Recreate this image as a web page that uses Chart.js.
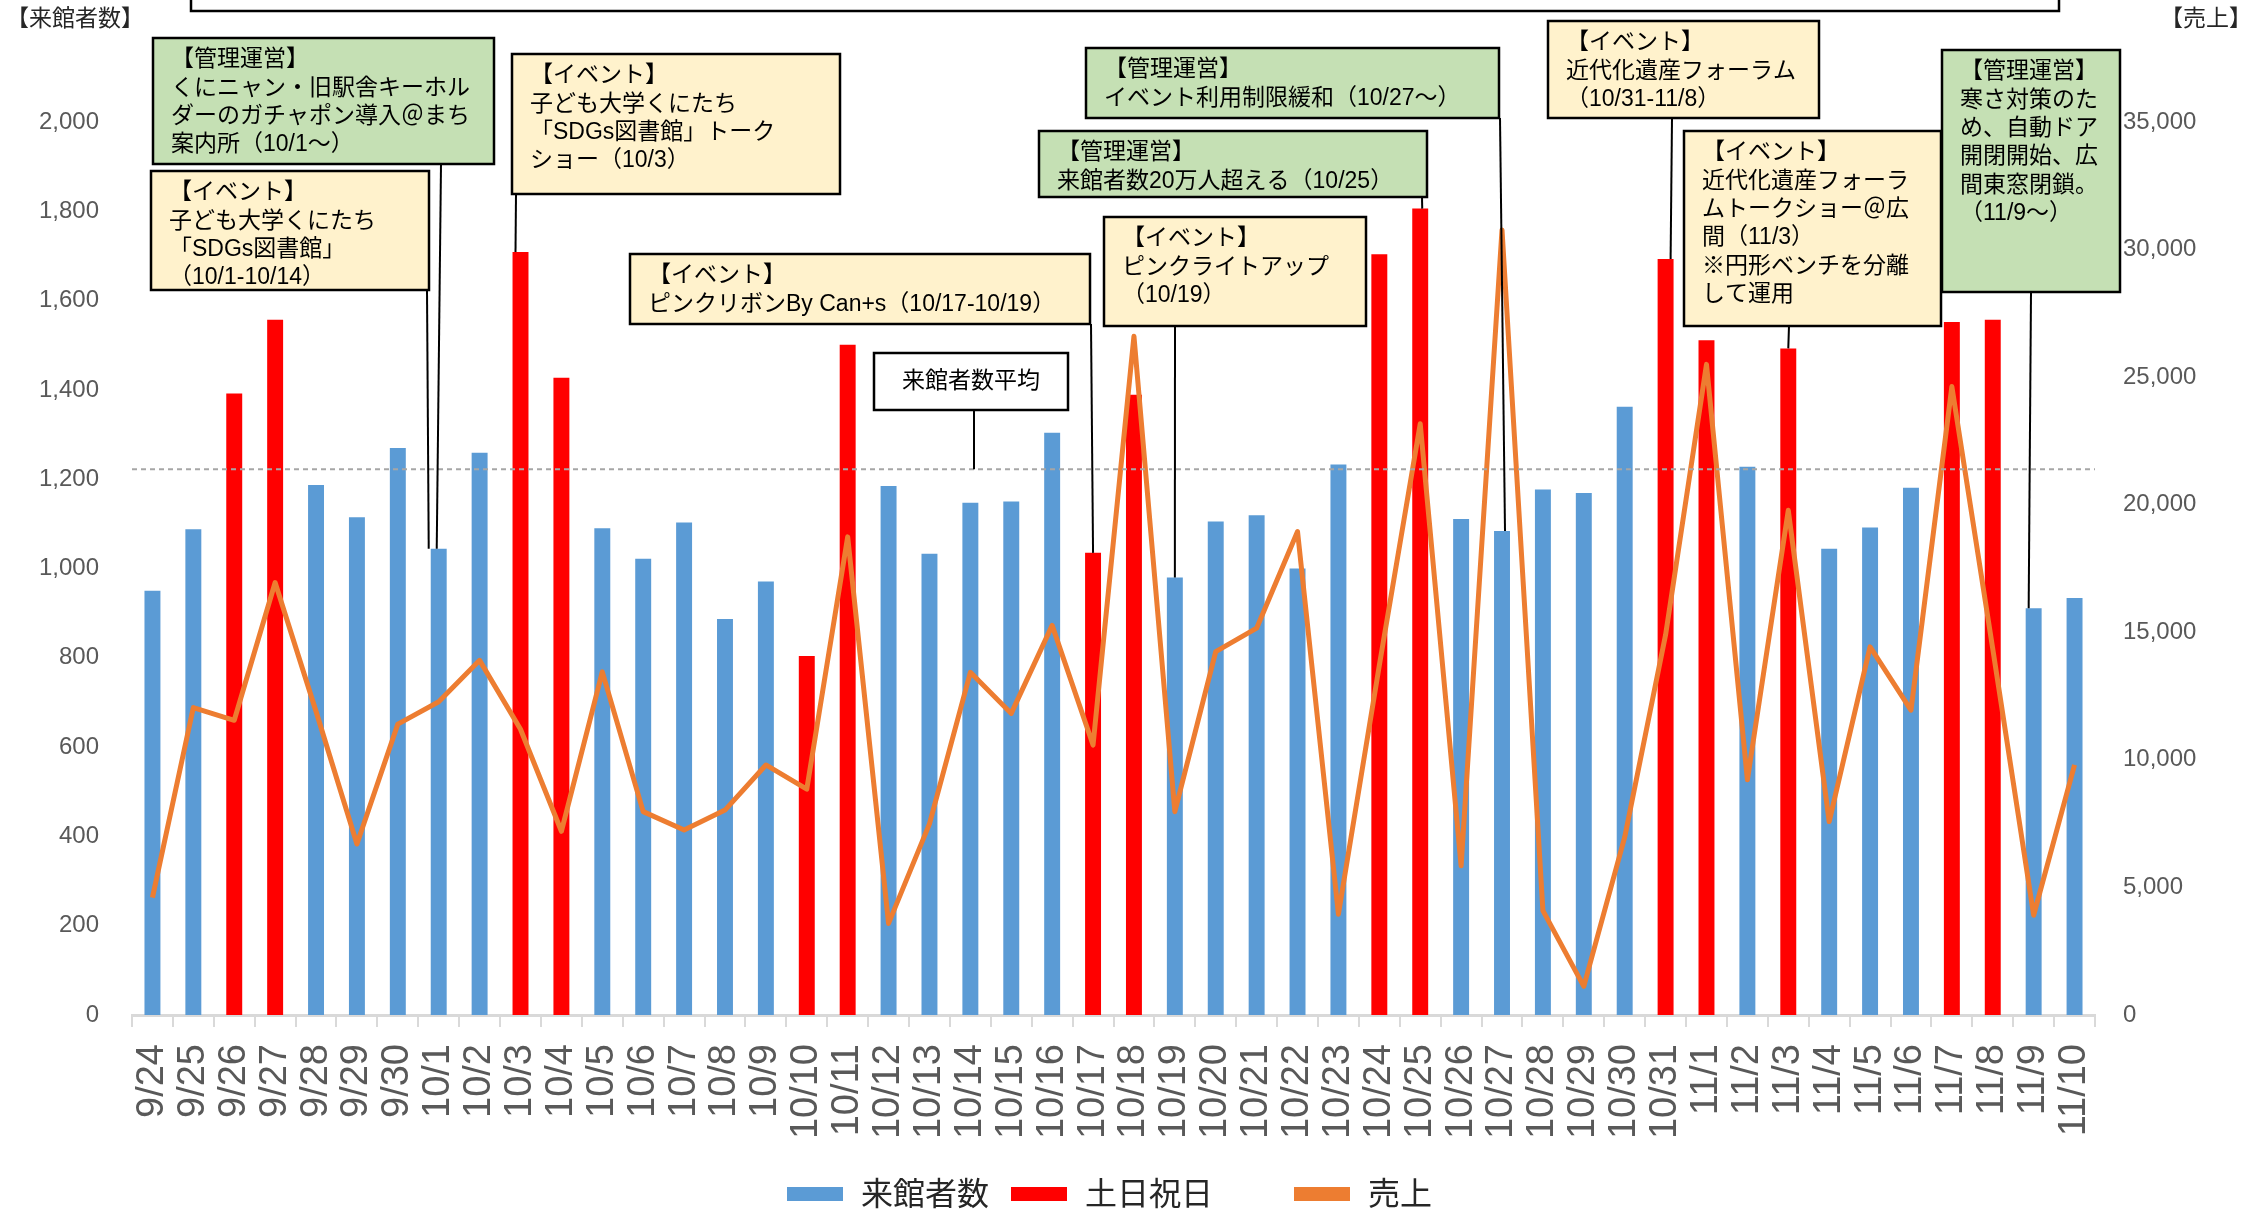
<!DOCTYPE html>
<html>
<head>
<meta charset="utf-8">
<script src="https://cdn.jsdelivr.net/npm/chart.js@4.4.1/dist/chart.umd.min.js"></script>
<style>
  html, body { margin: 0; padding: 0; background: #fff; overflow: hidden; }
  canvas { display: block; }
</style>
</head>
<body>
<canvas id="myChart" width="2259" height="1210"></canvas>
<script>
// 日付
const dates = ['9/24','9/25','9/26','9/27','9/28','9/29','9/30',
  '10/1','10/2','10/3','10/4','10/5','10/6','10/7','10/8','10/9','10/10',
  '10/11','10/12','10/13','10/14','10/15','10/16','10/17','10/18','10/19','10/20',
  '10/21','10/22','10/23','10/24','10/25','10/26','10/27','10/28','10/29','10/30','10/31',
  '11/1','11/2','11/3','11/4','11/5','11/6','11/7','11/8','11/9','11/10'];

// 来館者数
const visitors = [950, 1088, 1392, 1557, 1187, 1115, 1270,
  1044, 1259, 1709, 1427, 1090, 1022, 1103, 887, 971, 804,
  1501, 1185, 1033, 1147, 1150, 1304, 1035, 1389, 980, 1105,
  1119, 1000, 1233, 1704, 1806, 1111, 1084, 1177, 1169, 1362, 1693,
  1511, 1228, 1493, 1044, 1092, 1181, 1552, 1557, 911, 934];

// 土日祝日
const holidays = ['9/26','9/27','10/3','10/4','10/10','10/11','10/17','10/18',
  '10/24','10/25','10/31','11/1','11/3','11/7','11/8'];

// 売上
const sales = [4600, 12050, 11550, 16950, 11900, 6700, 11400,
  12280, 13900, 11200, 7200, 13450, 7970, 7250, 8030, 9800, 8850,
  18740, 3590, 7490, 13430, 11820, 15270, 10580, 26600, 7970, 14240,
  15160, 18950, 3950, 13700, 23170, 5850, 30770, 4090, 1120, 6970, 14900,
  25500, 9220, 19780, 7580, 14430, 11950, 24630, 14350, 3910, 9800];

const leftTicksMax = 2000;
const rightTicksMax = 35000;

const avgVisitors = visitors.reduce((a, b) => a + b, 0) / visitors.length;

// 吹き出し
const notes = [
  { kind: 'kanri', date: '10/1', lines: ['【管理運営】', 'くにニャン・旧駅舎キーホル', 'ダーのガチャポン導入＠まち', '案内所（10/1～）'] },
  { kind: 'event', date: '10/1', lines: ['【イベント】', '子ども大学くにたち', '「SDGs図書館」', '（10/1-10/14）'] },
  { kind: 'event', date: '10/3', lines: ['【イベント】', '子ども大学くにたち', '「SDGs図書館」トーク', 'ショー（10/3）'] },
  { kind: 'event', date: '10/17', lines: ['【イベント】', 'ピンクリボンBy Can+s（10/17-10/19）'] },
  { kind: 'plain', date: null, lines: ['来館者数平均'] },
  { kind: 'kanri', date: '10/27', lines: ['【管理運営】', 'イベント利用制限緩和（10/27～）'] },
  { kind: 'kanri', date: '10/25', lines: ['【管理運営】', '来館者数20万人超える（10/25）'] },
  { kind: 'event', date: '10/19', lines: ['【イベント】', 'ピンクライトアップ', '（10/19）'] },
  { kind: 'event', date: '10/31', lines: ['【イベント】', '近代化遺産フォーラム', '（10/31-11/8）'] },
  { kind: 'event', date: '11/3', lines: ['【イベント】', '近代化遺産フォーラ', 'ムトークショー＠広', '間（11/3）', '※円形ベンチを分離', 'して運用'] },
  { kind: 'kanri', date: '11/9', lines: ['【管理運営】', '寒さ対策のた', 'め、自動ドア', '開閉開始、広', '間東窓閉鎖。', '（11/9～）'] }
];

// 吹き出しの配置 (px)
const noteBoxes = [
  { x: 153, y: 38, w: 341, h: 126, lead: 441, dx: -2 },
  { x: 151, y: 171, w: 278, h: 119, lead: 427, dx: -10 },
  { x: 512, y: 54, w: 328, h: 140, lead: 516, dx: -5 },
  { x: 630, y: 254, w: 460, h: 70, lead: 1091, dx: 0 },
  { x: 874, y: 353, w: 194, h: 57, lead: 974, dx: 0 },
  { x: 1086, y: 48, w: 413, h: 70, lead: 1500, dx: 3 },
  { x: 1039, y: 131, w: 388, h: 66, lead: 1422, dx: 2 },
  { x: 1104, y: 217, w: 262, h: 109, lead: 1175, dx: 0 },
  { x: 1548, y: 21, w: 271, h: 97, lead: 1672, dx: 5 },
  { x: 1684, y: 131, w: 257, h: 195, lead: 1789, dx: 0 },
  { x: 1942, y: 50, w: 178, h: 242, lead: 2031, dx: -5 }
];

const fills = { kanri: '#C5E0B4', event: '#FFF2CC', plain: '#FFFFFF' };
const jpFont = '"Liberation Sans", "Noto Sans CJK JP", sans-serif';

const weekdayData = visitors.map((v, i) => holidays.includes(dates[i]) ? null : v);
const holidayData = visitors.map((v, i) => holidays.includes(dates[i]) ? v : null);

const notesPlugin = {
  id: 'notes',
  afterDatasetsDraw(chart) {
    const { ctx, chartArea, scales: { x, y } } = chart;
    ctx.save();

    // 平均線
    const ya = y.getPixelForValue(avgVisitors);
    ctx.strokeStyle = '#A6A6A6';
    ctx.lineWidth = 2;
    ctx.setLineDash([5, 4]);
    ctx.beginPath();
    ctx.moveTo(chartArea.left, ya);
    ctx.lineTo(chartArea.right, ya);
    ctx.stroke();
    ctx.setLineDash([]);

    // 上の枠 (切れている)
    ctx.fillStyle = '#fff';
    ctx.fillRect(191, -20, 1868, 31);
    ctx.strokeStyle = '#000';
    ctx.lineWidth = 2.5;
    ctx.strokeRect(191, -20, 1868, 31);

    // 引き出し線
    ctx.lineWidth = 2;
    notes.forEach((n, i) => {
      const b = noteBoxes[i];
      let tx, ty;
      if (n.date) {
        const k = dates.indexOf(n.date);
        tx = x.getPixelForValue(k) + b.dx;
        ty = y.getPixelForValue(visitors[k]);
      } else {
        tx = b.lead;
        ty = ya;
      }
      ctx.beginPath();
      ctx.moveTo(b.lead, b.y + b.h);
      ctx.lineTo(tx, ty);
      ctx.stroke();
    });

    // 枠と文字
    notes.forEach((n, i) => {
      const b = noteBoxes[i];
      ctx.fillStyle = fills[n.kind];
      ctx.fillRect(b.x, b.y, b.w, b.h);
      ctx.lineWidth = 2.5;
      ctx.strokeStyle = '#000';
      ctx.strokeRect(b.x, b.y, b.w, b.h);
      ctx.fillStyle = '#000';
      ctx.font = '23px ' + jpFont;
      ctx.textBaseline = 'middle';
      if (n.kind === 'plain') {
        ctx.textAlign = 'center';
        ctx.fillText(n.lines[0], b.x + b.w / 2, b.y + b.h / 2);
      } else {
        ctx.textAlign = 'left';
        n.lines.forEach((t, k) => ctx.fillText(t, b.x + 18, b.y + 22 + k * 28.3));
      }
    });

    // 軸タイトル
    ctx.fillStyle = '#262626';
    ctx.font = '23px ' + jpFont;
    ctx.textAlign = 'left';
    ctx.fillText('【来館者数】', 6, 20);
    ctx.fillText('【売上】', 2160, 20);

    // 凡例
    const legendPos = [787, 1011, 1294];
    const ds = chart.data.datasets;
    ctx.font = '32px ' + jpFont;
    ds.forEach((d, i) => {
      const lx = legendPos[i];
      ctx.fillStyle = d.legendColor;
      ctx.fillRect(lx, 1187, 56, 14);
      ctx.fillStyle = '#262626';
      ctx.fillText(d.label, lx + 74, 1196);
    });
    ctx.restore();
  }
};

const config = {
  data: {
    labels: dates,
    datasets: [
      {
        type: 'bar',
        label: '来館者数',
        data: weekdayData,
        backgroundColor: '#5B9BD5',
        legendColor: '#5B9BD5',
        yAxisID: 'y',
        grouped: false,
        barPercentage: 0.39,
        categoryPercentage: 1,
        order: 3
      },
      {
        type: 'bar',
        label: '土日祝日',
        data: holidayData,
        backgroundColor: '#FF0000',
        legendColor: '#FF0000',
        yAxisID: 'y',
        grouped: false,
        barPercentage: 0.39,
        categoryPercentage: 1,
        order: 2
      },
      {
        type: 'line',
        label: '売上',
        data: sales,
        borderColor: '#ED7D31',
        legendColor: '#ED7D31',
        borderWidth: 5,
        borderJoinStyle: 'round',
        pointRadius: 0,
        tension: 0,
        yAxisID: 'y1',
        order: 1
      }
    ]
  },
  options: {
    responsive: false,
    devicePixelRatio: 1,
    animation: false,
    layout: { padding: { top: 122, left: 0, right: 0, bottom: 0 } },
    plugins: {
      legend: { display: false },
      tooltip: { enabled: false }
    },
    scales: {
      x: {
        offset: true,
        grid: {
          display: true,
          offset: true,
          drawOnChartArea: false,
          drawTicks: true,
          tickLength: 12,
          color: '#D9D9D9',
          lineWidth: 2
        },
        border: { display: true, color: '#D9D9D9', width: 3 },
        ticks: {
          autoSkip: false,
          minRotation: 90,
          maxRotation: 90,
          padding: 17,
          color: '#595959',
          font: { family: 'Liberation Sans', size: 38 }
        },
        afterFit: (s) => { s.height = 195; }
      },
      y: {
        position: 'left',
        min: 0,
        max: leftTicksMax,
        grid: { display: false, drawTicks: false },
        border: { display: false },
        ticks: {
          stepSize: 200,
          padding: 33,
          color: '#595959',
          font: { family: 'Liberation Sans', size: 24 },
          callback: (v) => v.toLocaleString('en-US')
        },
        afterFit: (s) => { s.width = 132; }
      },
      y1: {
        position: 'right',
        min: 0,
        max: rightTicksMax,
        grid: { display: false, drawTicks: false },
        border: { display: false },
        ticks: {
          stepSize: 5000,
          padding: 28,
          color: '#595959',
          font: { family: 'Liberation Sans', size: 24 },
          callback: (v) => v.toLocaleString('en-US')
        },
        afterFit: (s) => { s.width = 164; }
      }
    }
  },
  plugins: [notesPlugin]
};

const myChart = new Chart(document.getElementById('myChart'), config);
</script>
</body>
</html>
